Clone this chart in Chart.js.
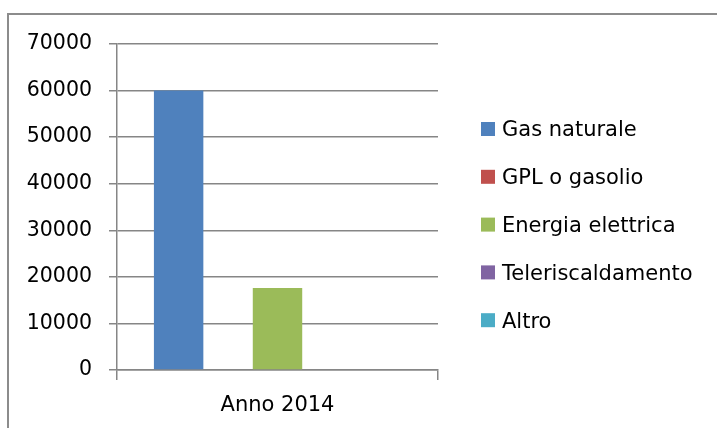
<!DOCTYPE html>
<html>
<head>
<meta charset="utf-8">
<script src="https://cdn.jsdelivr.net/npm/chart.js@4/dist/chart.umd.min.js"></script>
<style>
  html, body { margin: 0; padding: 0; background: #ffffff; }
  body { width: 717px; height: 428px; position: relative; overflow: hidden; }
  #frame { position: absolute; left: 7px; top: 13px; width: 760px; height: 470px;
           border-left: 2px solid #8c8c8c; border-top: 2px solid #8c8c8c; }
  #c { position: absolute; left: 0; top: 0; }
</style>
</head>
<body>
<div id="frame"></div>
<canvas id="c" width="717" height="428"></canvas>
<script>
const categories = ['Anno 2014'];
const seriesNames = ['Gas naturale', 'GPL o gasolio', 'Energia elettrica', 'Teleriscaldamento', 'Altro'];
const gasNaturale = [60000];
const gplGasolio = [0];
const energiaElettrica = [17600];
const teleriscaldamento = [0];
const altro = [0];
const yTicks = [0, 10000, 20000, 30000, 40000, 50000, 60000, 70000];
const seriesColors = ['#4f81bd', '#c0504d', '#9bbb59', '#8064a2', '#4bacc6'];

const seriesValues = [gasNaturale, gplGasolio, energiaElettrica, teleriscaldamento, altro];
const FONT = '"DejaVu Sans", "Liberation Sans", sans-serif';
const GRID = '#868686';

const sideLegend = {
  id: 'sideLegend',
  afterDraw(chart) {
    const ctx = chart.ctx;
    ctx.save();
    ctx.font = '21px ' + FONT;
    ctx.textBaseline = 'middle';
    ctx.textAlign = 'left';
    chart.data.datasets.forEach((ds, i) => {
      const yc = 129 + i * 47.8;
      ctx.fillStyle = ds.backgroundColor;
      ctx.fillRect(481, yc - 7, 14, 14);
      ctx.fillStyle = '#000000';
      ctx.fillText(ds.label, 502, yc + 2);
    });
    ctx.restore();
  }
};

new Chart(document.getElementById('c'), {
  type: 'bar',
  data: {
    labels: categories,
    datasets: seriesNames.map((name, i) => ({
      label: name,
      data: seriesValues[i],
      backgroundColor: seriesColors[i],
      borderWidth: 0,
      categoryPercentage: 0.77,
      barPercentage: 1.0
    }))
  },
  options: {
    responsive: false,
    animation: false,
    devicePixelRatio: 1,
    layout: { padding: { top: 44, right: 279, left: 0, bottom: 0 } },
    plugins: { legend: { display: false }, tooltip: { enabled: false } },
    scales: {
      x: {
        offset: true,
        grid: { display: true, drawOnChartArea: false, drawTicks: true, tickLength: 10,
                offset: true, color: GRID, lineWidth: 1.5 },
        border: { display: true, color: GRID, width: 1.5 },
        ticks: { color: '#000000', font: { family: FONT, size: 21 }, padding: 13 },
        afterFit(s) { s.height = 58; }
      },
      y: {
        min: 0, max: 70000,
        afterBuildTicks(s) { s.ticks = yTicks.map(v => ({ value: v })); },
        grid: { color: GRID, lineWidth: 1.5, drawTicks: true, tickLength: 8 },
        border: { display: true, color: GRID, width: 1.5 },
        ticks: { color: '#000000', font: { family: FONT, size: 20.5 }, padding: 17,
                 callback: v => String(v) },
        afterFit(s) { s.width = 117; }
      }
    }
  },
  plugins: [sideLegend]
});
</script>
</body>
</html>
